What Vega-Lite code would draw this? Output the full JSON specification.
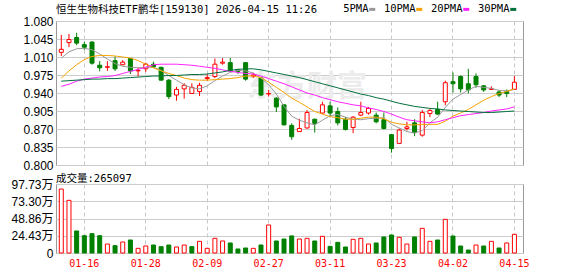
{
  "$schema": "https://vega.github.io/schema/vega-lite/v6.json",
  "background": "white",
  "padding": {"left": 7, "top": 4, "right": 5, "bottom": 0},
  "spacing": 1,
  "datasets": {
    "k": [
      {"date": "01-13", "open": 1.019, "high": 1.053, "low": 1.012, "close": 1.025, "volume": 906000, "chg": "up", "ma5": 1.008, "ma10": 0.969, "ma20": 0.953, "ma30": 0.963},
      {"date": "01-14", "open": 1.038, "high": 1.055, "low": 1.029, "close": 1.044, "volume": 746000, "chg": "up", "ma5": 1.020, "ma10": 0.983, "ma20": 0.957, "ma30": 0.964},
      {"date": "01-15", "open": 1.048, "high": 1.057, "low": 1.033, "close": 1.037, "volume": 312000, "chg": "down", "ma5": 1.026, "ma10": 0.995, "ma20": 0.963, "ma30": 0.965},
      {"date": "01-16", "open": 1.034, "high": 1.040, "low": 1.024, "close": 1.029, "volume": 245000, "chg": "down", "ma5": 1.027, "ma10": 1.005, "ma20": 0.967, "ma30": 0.966},
      {"date": "01-19", "open": 1.039, "high": 1.041, "low": 0.995, "close": 0.998, "volume": 274000, "chg": "down", "ma5": 1.024, "ma10": 1.011, "ma20": 0.969, "ma30": 0.967},
      {"date": "01-20", "open": 0.994, "high": 1.002, "low": 0.982, "close": 0.989, "volume": 245000, "chg": "down", "ma5": 1.016, "ma10": 1.013, "ma20": 0.971, "ma30": 0.967},
      {"date": "01-21", "open": 0.990, "high": 1.002, "low": 0.983, "close": 0.991, "volume": 127000, "chg": "up", "ma5": 1.006, "ma10": 1.013, "ma20": 0.972, "ma30": 0.968},
      {"date": "01-22", "open": 1.003, "high": 1.011, "low": 0.983, "close": 0.987, "volume": 104000, "chg": "down", "ma5": 0.997, "ma10": 1.012, "ma20": 0.974, "ma30": 0.968},
      {"date": "01-23", "open": 0.995, "high": 1.004, "low": 0.994, "close": 1.000, "volume": 156000, "chg": "up", "ma5": 0.992, "ma10": 1.010, "ma20": 0.978, "ma30": 0.969},
      {"date": "01-26", "open": 1.007, "high": 1.008, "low": 0.977, "close": 0.983, "volume": 184000, "chg": "down", "ma5": 0.990, "ma10": 1.008, "ma20": 0.982, "ma30": 0.970},
      {"date": "01-27", "open": 0.983, "high": 0.990, "low": 0.972, "close": 0.984, "volume": 66000, "chg": "up", "ma5": 0.989, "ma10": 1.003, "ma20": 0.986, "ma30": 0.971},
      {"date": "01-28", "open": 0.987, "high": 0.999, "low": 0.981, "close": 0.996, "volume": 99000, "chg": "up", "ma5": 0.990, "ma10": 0.996, "ma20": 0.990, "ma30": 0.972},
      {"date": "01-29", "open": 0.996, "high": 1.001, "low": 0.989, "close": 0.991, "volume": 113000, "chg": "down", "ma5": 0.990, "ma10": 0.989, "ma20": 0.995, "ma30": 0.973},
      {"date": "01-30", "open": 0.990, "high": 0.991, "low": 0.964, "close": 0.965, "volume": 90000, "chg": "down", "ma5": 0.984, "ma10": 0.983, "ma20": 0.996, "ma30": 0.973},
      {"date": "02-02", "open": 0.965, "high": 0.967, "low": 0.928, "close": 0.933, "volume": 113000, "chg": "down", "ma5": 0.974, "ma10": 0.978, "ma20": 0.996, "ma30": 0.974},
      {"date": "02-03", "open": 0.936, "high": 0.952, "low": 0.925, "close": 0.947, "volume": 85000, "chg": "up", "ma5": 0.965, "ma10": 0.974, "ma20": 0.996, "ma30": 0.974},
      {"date": "02-04", "open": 0.948, "high": 0.959, "low": 0.929, "close": 0.955, "volume": 113000, "chg": "up", "ma5": 0.956, "ma10": 0.969, "ma20": 0.995, "ma30": 0.975},
      {"date": "02-05", "open": 0.939, "high": 0.959, "low": 0.938, "close": 0.951, "volume": 90000, "chg": "down", "ma5": 0.950, "ma10": 0.966, "ma20": 0.994, "ma30": 0.976},
      {"date": "02-06", "open": 0.943, "high": 0.960, "low": 0.934, "close": 0.955, "volume": 165000, "chg": "up", "ma5": 0.948, "ma10": 0.965, "ma20": 0.992, "ma30": 0.976},
      {"date": "02-09", "open": 0.968, "high": 0.977, "low": 0.964, "close": 0.970, "volume": 66000, "chg": "up", "ma5": 0.954, "ma10": 0.965, "ma20": 0.990, "ma30": 0.977},
      {"date": "02-10", "open": 0.972, "high": 1.007, "low": 0.969, "close": 0.996, "volume": 208000, "chg": "up", "ma5": 0.964, "ma10": 0.966, "ma20": 0.988, "ma30": 0.979},
      {"date": "02-11", "open": 0.998, "high": 1.008, "low": 0.995, "close": 1.000, "volume": 170000, "chg": "up", "ma5": 0.973, "ma10": 0.967, "ma20": 0.985, "ma30": 0.981},
      {"date": "02-12", "open": 0.999, "high": 1.008, "low": 0.981, "close": 0.983, "volume": 142000, "chg": "down", "ma5": 0.980, "ma10": 0.968, "ma20": 0.982, "ma30": 0.984},
      {"date": "02-13", "open": 0.985, "high": 0.987, "low": 0.977, "close": 0.982, "volume": 57000, "chg": "down", "ma5": 0.984, "ma10": 0.970, "ma20": 0.980, "ma30": 0.986},
      {"date": "02-24", "open": 0.999, "high": 1.000, "low": 0.964, "close": 0.967, "volume": 71000, "chg": "down", "ma5": 0.983, "ma10": 0.973, "ma20": 0.978, "ma30": 0.987},
      {"date": "02-25", "open": 0.973, "high": 0.979, "low": 0.969, "close": 0.975, "volume": 66000, "chg": "up", "ma5": 0.979, "ma10": 0.973, "ma20": 0.977, "ma30": 0.987},
      {"date": "02-26", "open": 0.969, "high": 0.971, "low": 0.934, "close": 0.936, "volume": 113000, "chg": "down", "ma5": 0.969, "ma10": 0.970, "ma20": 0.973, "ma30": 0.985},
      {"date": "02-27", "open": 0.938, "high": 0.946, "low": 0.933, "close": 0.939, "volume": 397000, "chg": "up", "ma5": 0.956, "ma10": 0.961, "ma20": 0.968, "ma30": 0.982},
      {"date": "03-02", "open": 0.930, "high": 0.932, "low": 0.903, "close": 0.913, "volume": 170000, "chg": "down", "ma5": 0.938, "ma10": 0.951, "ma20": 0.963, "ma30": 0.979},
      {"date": "03-03", "open": 0.917, "high": 0.918, "low": 0.877, "close": 0.878, "volume": 198000, "chg": "down", "ma5": 0.914, "ma10": 0.941, "ma20": 0.958, "ma30": 0.976},
      {"date": "03-04", "open": 0.877, "high": 0.881, "low": 0.849, "close": 0.855, "volume": 242000, "chg": "down", "ma5": 0.895, "ma10": 0.930, "ma20": 0.952, "ma30": 0.973},
      {"date": "03-05", "open": 0.865, "high": 0.890, "low": 0.865, "close": 0.871, "volume": 198000, "chg": "up", "ma5": 0.887, "ma10": 0.922, "ma20": 0.946, "ma30": 0.970},
      {"date": "03-06", "open": 0.872, "high": 0.907, "low": 0.871, "close": 0.902, "volume": 208000, "chg": "up", "ma5": 0.882, "ma10": 0.913, "ma20": 0.940, "ma30": 0.966},
      {"date": "03-09", "open": 0.889, "high": 0.890, "low": 0.863, "close": 0.881, "volume": 170000, "chg": "down", "ma5": 0.878, "ma10": 0.904, "ma20": 0.936, "ma30": 0.962},
      {"date": "03-10", "open": 0.901, "high": 0.923, "low": 0.900, "close": 0.917, "volume": 236000, "chg": "up", "ma5": 0.887, "ma10": 0.899, "ma20": 0.931, "ma30": 0.958},
      {"date": "03-11", "open": 0.915, "high": 0.923, "low": 0.893, "close": 0.901, "volume": 94000, "chg": "down", "ma5": 0.896, "ma10": 0.894, "ma20": 0.927, "ma30": 0.954},
      {"date": "03-12", "open": 0.904, "high": 0.912, "low": 0.877, "close": 0.882, "volume": 151000, "chg": "down", "ma5": 0.898, "ma10": 0.892, "ma20": 0.923, "ma30": 0.950},
      {"date": "03-13", "open": 0.889, "high": 0.893, "low": 0.867, "close": 0.869, "volume": 85000, "chg": "down", "ma5": 0.893, "ma10": 0.889, "ma20": 0.920, "ma30": 0.946},
      {"date": "03-16", "open": 0.873, "high": 0.895, "low": 0.862, "close": 0.893, "volume": 194000, "chg": "up", "ma5": 0.889, "ma10": 0.889, "ma20": 0.917, "ma30": 0.942},
      {"date": "03-17", "open": 0.897, "high": 0.923, "low": 0.895, "close": 0.902, "volume": 208000, "chg": "up", "ma5": 0.888, "ma10": 0.891, "ma20": 0.915, "ma30": 0.938},
      {"date": "03-18", "open": 0.901, "high": 0.913, "low": 0.898, "close": 0.910, "volume": 127000, "chg": "up", "ma5": 0.890, "ma10": 0.893, "ma20": 0.911, "ma30": 0.935},
      {"date": "03-19", "open": 0.897, "high": 0.902, "low": 0.881, "close": 0.884, "volume": 142000, "chg": "down", "ma5": 0.891, "ma10": 0.893, "ma20": 0.908, "ma30": 0.931},
      {"date": "03-20", "open": 0.888, "high": 0.902, "low": 0.869, "close": 0.871, "volume": 227000, "chg": "down", "ma5": 0.892, "ma10": 0.890, "ma20": 0.904, "ma30": 0.928},
      {"date": "03-23", "open": 0.859, "high": 0.860, "low": 0.824, "close": 0.832, "volume": 255000, "chg": "down", "ma5": 0.879, "ma10": 0.883, "ma20": 0.899, "ma30": 0.924},
      {"date": "03-24", "open": 0.842, "high": 0.871, "low": 0.842, "close": 0.868, "volume": 222000, "chg": "up", "ma5": 0.872, "ma10": 0.880, "ma20": 0.893, "ma30": 0.920},
      {"date": "03-25", "open": 0.871, "high": 0.884, "low": 0.867, "close": 0.874, "volume": 127000, "chg": "up", "ma5": 0.865, "ma10": 0.878, "ma20": 0.888, "ma30": 0.917},
      {"date": "03-26", "open": 0.882, "high": 0.889, "low": 0.856, "close": 0.863, "volume": 227000, "chg": "down", "ma5": 0.862, "ma10": 0.878, "ma20": 0.886, "ma30": 0.914},
      {"date": "03-27", "open": 0.858, "high": 0.907, "low": 0.855, "close": 0.902, "volume": 349000, "chg": "up", "ma5": 0.867, "ma10": 0.879, "ma20": 0.884, "ma30": 0.912},
      {"date": "03-30", "open": 0.900, "high": 0.910, "low": 0.893, "close": 0.906, "volume": 165000, "chg": "up", "ma5": 0.882, "ma10": 0.879, "ma20": 0.882, "ma30": 0.910},
      {"date": "03-31", "open": 0.908, "high": 0.923, "low": 0.898, "close": 0.899, "volume": 184000, "chg": "down", "ma5": 0.893, "ma10": 0.879, "ma20": 0.884, "ma30": 0.909},
      {"date": "04-01", "open": 0.923, "high": 0.964, "low": 0.916, "close": 0.960, "volume": 477000, "chg": "up", "ma5": 0.912, "ma10": 0.885, "ma20": 0.888, "ma30": 0.907},
      {"date": "04-02", "open": 0.962, "high": 0.980, "low": 0.941, "close": 0.958, "volume": 241000, "chg": "down", "ma5": 0.928, "ma10": 0.895, "ma20": 0.892, "ma30": 0.906},
      {"date": "04-03", "open": 0.972, "high": 0.974, "low": 0.941, "close": 0.948, "volume": 99000, "chg": "down", "ma5": 0.937, "ma10": 0.901, "ma20": 0.896, "ma30": 0.905},
      {"date": "04-07", "open": 0.958, "high": 0.987, "low": 0.939, "close": 0.946, "volume": 42000, "chg": "down", "ma5": 0.946, "ma10": 0.908, "ma20": 0.898, "ma30": 0.904},
      {"date": "04-08", "open": 0.972, "high": 0.978, "low": 0.950, "close": 0.956, "volume": 113000, "chg": "up", "ma5": 0.953, "ma10": 0.917, "ma20": 0.900, "ma30": 0.903},
      {"date": "04-09", "open": 0.954, "high": 0.955, "low": 0.942, "close": 0.946, "volume": 99000, "chg": "down", "ma5": 0.951, "ma10": 0.926, "ma20": 0.902, "ma30": 0.902},
      {"date": "04-10", "open": 0.947, "high": 0.953, "low": 0.946, "close": 0.948, "volume": 165000, "chg": "up", "ma5": 0.949, "ma10": 0.933, "ma20": 0.905, "ma30": 0.902},
      {"date": "04-13", "open": 0.942, "high": 0.946, "low": 0.932, "close": 0.936, "volume": 71000, "chg": "down", "ma5": 0.945, "ma10": 0.939, "ma20": 0.907, "ma30": 0.903},
      {"date": "04-14", "open": 0.943, "high": 0.947, "low": 0.932, "close": 0.939, "volume": 142000, "chg": "up", "ma5": 0.944, "ma10": 0.943, "ma20": 0.909, "ma30": 0.904},
      {"date": "04-15", "open": 0.947, "high": 0.973, "low": 0.946, "close": 0.961, "volume": 265097, "chg": "up", "ma5": 0.947, "ma10": 0.948, "ma20": 0.913, "ma30": 0.905}
    ]
  },
  "vconcat": [
    {
      "width": 467,
      "height": 144,
      "title": {"text": "恒生生物科技ETF鹏华[159130] 2026-04-15 11:26", "anchor": "start", "frame": "group", "font": "DejaVu Sans Mono, Noto Sans CJK SC", "fontSize": 10.5, "fontWeight": "normal", "color": "#000000", "offset": 0},
      "data": {"name": "k"},
      "encoding": {
        "x": {
          "field": "date", "type": "ordinal", "sort": null,
          "scale": {"type": "band", "paddingInner": 0.35, "paddingOuter": 0.5786, "align": 0.315, "round": false,
            "domain": ["01-13","01-14","01-15","01-16","01-19","01-20","01-21","01-22","01-23","01-26","01-27","01-28","01-29","01-30","02-02","02-03","02-04","02-05","02-06","02-09","02-10","02-11","02-12","02-13","02-24","02-25","02-26","02-27","03-02","03-03","03-04","03-05","03-06","03-09","03-10","03-11","03-12","03-13","03-16","03-17","03-18","03-19","03-20","03-23","03-24","03-25","03-26","03-27","03-30","03-31","04-01","04-02","04-03","04-07","04-08","04-09","04-10","04-13","04-14","04-15"]},
          "axis": {"values": ["01-16","01-28","02-09","02-27","03-11","03-23","04-02","04-15"], "labels": false, "ticks": false, "domain": false, "grid": true, "gridDash": [4, 3], "gridColor": "#c8c8c8", "bandPosition": 0.5, "title": null, "minExtent": 0, "maxExtent": 0}
        },
        "y": {"field": "low", "type": "quantitative", "scale": {"domain": [0.8, 1.08], "zero": false, "nice": false},
          "axis": {"values": [0.8, 0.835, 0.87, 0.905, 0.94, 0.975, 1.01, 1.045, 1.08], "tickCount": 20, "format": ".3f", "grid": true, "gridColor": "#cccccc", "labelOverlap": false, "labelPadding": 3, "minExtent": 48, "maxExtent": 48, "title": null}}
      },
      "layer": [
        {
          "data": {"values": [{"date": "03-06", "low": 0.952, "label": "东方财富"}]},
          "mark": {"type": "text", "font": "Noto Sans CJK SC", "fontSize": 30, "fontWeight": "bold", "color": "#ececec", "align": "center", "baseline": "middle"},
          "encoding": {
            "text": {"field": "label"}
          }
        },
        {
          "mark": {"type": "rule", "strokeWidth": 1},
          "encoding": {
            "y2": {"field": "high"},
            "color": {"condition": {"test": "datum.close >= datum.open", "value": "#ff0000"}, "value": "#008000"}
          }
        },
        {
          "mark": {"type": "bar", "width": 4, "strokeWidth": 1},
          "encoding": {
            "y": {"field": "open", "type": "quantitative"},
            "y2": {"field": "close"},
            "fill": {"condition": {"test": "datum.close >= datum.open", "value": "#ffffff"}, "value": "#008000"},
            "stroke": {"condition": {"test": "datum.close >= datum.open", "value": "#ff0000"}, "value": "#008000"}
          }
        },
        {
          "transform": [{"fold": ["ma5", "ma10", "ma20", "ma30"], "as": ["line", "value"]}],
          "mark": {"type": "line", "strokeWidth": 1},
          "encoding": {
            "y": {"field": "value", "type": "quantitative"},
            "color": {
              "field": "line", "type": "nominal",
              "scale": {"domain": ["ma5", "ma10", "ma20", "ma30"], "range": ["#999999", "#f5a300", "#ff22ff", "#00703c"]},
              "legend": {
                "orient": "none", "legendX": 311, "legendY": -17, "direction": "horizontal", "title": null, "padding": 0,
                "symbolType": "M-1,-0.5H1V0.5H-1Z", "symbolSize": 36, "symbolStrokeWidth": 0,
                "labelFont": "DejaVu Sans Mono", "labelFontSize": 10.5, "labelColor": "#000000",
                "labelAlign": "right", "labelOffset": -9, "columnPadding": 7,
                "labelExpr": "{'ma5':' 5PMA','ma10':'10PMA','ma20':'20PMA','ma30':'30PMA'}[datum.label]",
                "encode": {"symbols": {"update": {"fill": {"scale": "color", "field": "value"}, "opacity": {"value": 1}}}}
              }
            }
          }
        }
      ]
    },
    {
      "width": 467,
      "height": 69,
      "title": {"text": "成交量:265097", "anchor": "start", "frame": "group", "font": "DejaVu Sans Mono, Noto Sans CJK SC", "fontSize": 10.5, "fontWeight": "normal", "color": "#000000", "offset": -6},
      "data": {"name": "k"},
      "mark": {"type": "bar", "width": 4, "strokeWidth": 1},
      "encoding": {
        "x": {
          "field": "date", "type": "ordinal", "sort": null,
          "scale": {"type": "band", "paddingInner": 0.35, "paddingOuter": 0.5786, "align": 0.315, "round": false},
          "axis": {"values": ["01-16","01-28","02-09","02-27","03-11","03-23","04-02","04-15"], "labelColor": "#ff0000", "labelFont": "DejaVu Sans Mono", "labelFontSize": 10, "labelPadding": 5, "labelAngle": 0, "ticks": false, "domain": false, "grid": true, "gridDash": [4, 3], "gridColor": "#c8c8c8", "bandPosition": 0.5, "title": null}
        },
        "y": {
          "field": "volume", "type": "quantitative", "scale": {"domain": [0, 977300], "nice": false},
          "axis": {"values": [0, 244300, 488600, 733000, 977300], "tickCount": 20, "labelExpr": "datum.value == 0 ? '0' : format(datum.value / 10000, '.2f') + '万'", "grid": true, "gridColor": "#cccccc", "labelOverlap": false, "labelPadding": 3, "minExtent": 48, "maxExtent": 48, "title": null}
        },
        "fill": {"condition": {"test": "datum.chg == 'up'", "value": "#ffffff"}, "value": "#008000"},
        "stroke": {"condition": {"test": "datum.chg == 'up'", "value": "#ff0000"}, "value": "#008000"}
      }
    }
  ],
  "config": {
    "view": {"stroke": "#999999", "strokeWidth": 1},
    "axis": {"labelFont": "Liberation Sans, Noto Sans CJK SC", "labelFontSize": 12, "labelColor": "#000000", "ticks": false, "domain": false, "gridWidth": 1}
  }
}
